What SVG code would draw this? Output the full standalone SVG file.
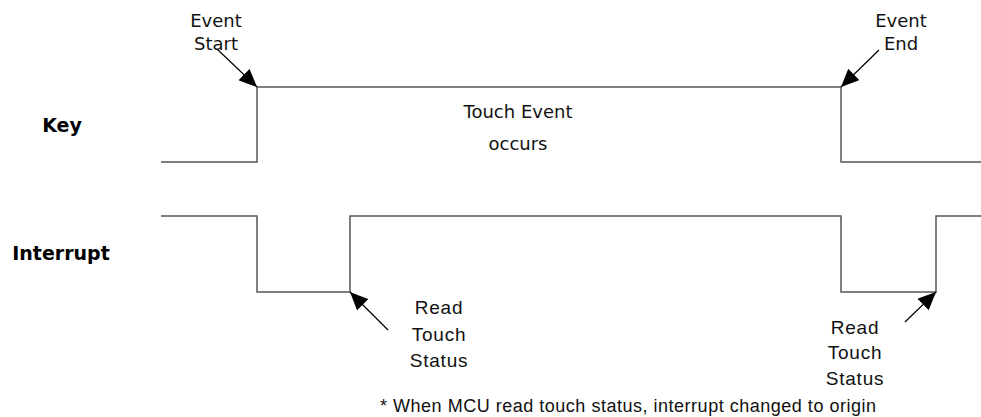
<svg xmlns="http://www.w3.org/2000/svg" width="981" height="417" viewBox="0 0 981 417">
<style>
.wave{fill:none;stroke:#555;stroke-width:1.5}
.arr{stroke:#000;stroke-width:1.2;fill:none;marker-end:url(#ah)}
.t{font-family:"DejaVu Sans",Verdana,sans-serif;font-size:18px;fill:#111;text-anchor:middle}
.b{font-family:"DejaVu Sans",Verdana,sans-serif;font-size:19px;font-weight:bold;fill:#000;text-anchor:middle}
.g{font-family:"Liberation Sans",Arial,sans-serif;font-size:19px;letter-spacing:0.8px;fill:#111;text-anchor:middle}
.n{font-family:"Liberation Sans",Arial,sans-serif;font-size:18px;fill:#111}
</style>
<defs>
<marker id="ah" markerWidth="18" markerHeight="16" refX="18" refY="8" orient="auto" markerUnits="userSpaceOnUse" viewBox="0 0 18 16">
<path d="M0,0 L18,8 L0,16 z" fill="#000"/>
</marker>
</defs>
<rect width="981" height="417" fill="#fff"/>
<g id="key-wave"><path class="wave" d="M161,162 H257 V87 H841 V162 H981"/></g>
<g id="interrupt-wave"><path class="wave" d="M161,216 H257 V292 H350 V216 H841 V292 H936 V216 H981"/></g>
<g id="labels">
<text class="b" x="62" y="132">Key</text>
<text class="b" x="61" y="260">Interrupt</text>
</g>
<g id="event-start"><text class="t" x="216" y="27">Event</text><text class="t" x="216" y="50">Start</text></g>
<g id="event-end"><text class="t" x="901" y="27">Event</text><text class="t" x="901" y="50">End</text></g>
<g id="touch-event"><text class="t" x="518" y="118">Touch Event</text><text class="t" x="518" y="150">occurs</text></g>
<g id="read1"><text class="g" x="439" y="314">Read</text><text class="g" x="439" y="341">Touch</text><text class="g" x="439" y="367">Status</text></g>
<g id="read2"><text class="g" x="855" y="334">Read</text><text class="g" x="855" y="359">Touch</text><text class="g" x="855" y="385">Status</text></g>
<g id="note"><text class="n" x="380" y="412" textLength="496" lengthAdjust="spacing">* When MCU read touch status, interrupt changed to origin</text></g>
<g id="connectors">
<line class="arr" x1="217" y1="49" x2="257" y2="87"/>
<line class="arr" x1="879" y1="50" x2="841" y2="87"/>
<line class="arr" x1="388" y1="330" x2="350" y2="292"/>
<line class="arr" x1="905" y1="322" x2="936" y2="292"/>
</g>
</svg>
